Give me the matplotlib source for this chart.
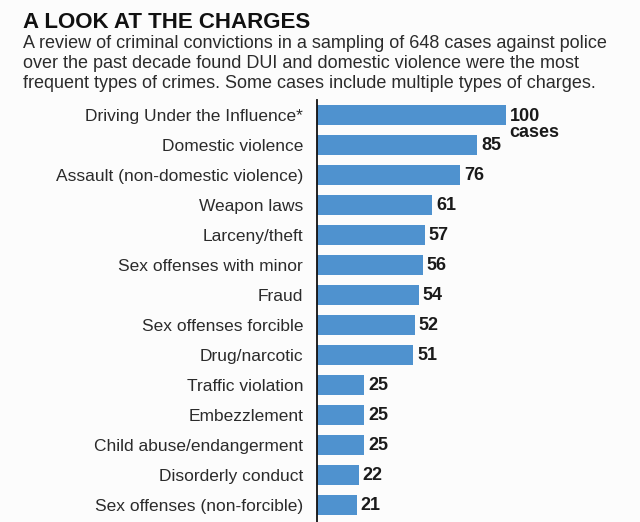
import matplotlib.pyplot as plt
import numpy as np

categories = [
    "Driving Under the Influence*",
    "Domestic violence",
    "Assault (non-domestic violence)",
    "Weapon laws",
    "Larceny/theft",
    "Sex offenses with minor",
    "Fraud",
    "Sex offenses forcible",
    "Drug/narcotic",
    "Traffic violation",
    "Embezzlement",
    "Child abuse/endangerment",
    "Disorderly conduct",
    "Sex offenses (non-forcible)",
]
cases = [100, 85, 76, 61, 57, 56, 54, 52, 51, 25, 25, 25, 22, 21]

title = "A LOOK AT THE CHARGES"
subtitle = ("A review of criminal convictions in a sampling of 648 cases against police\n"
            "over the past decade found DUI and domestic violence were the most\n"
            "frequent types of crimes. Some cases include multiple types of charges.")

bar_color = "#4f92cf"
text_color = "#2b2b2b"

plt.rcParams['font.family'] = ['Liberation Sans', 'DejaVu Sans']

fig = plt.figure(figsize=(6.4, 5.22), dpi=100)
fig.patch.set_facecolor("#fcfcfc")

# axes placed in pixel terms: left edge at x=317, top at y=100
ax = fig.add_axes([317 / 640, 0.0, 302 / 640, 422 / 522])
ax.set_facecolor("none")

y = np.arange(len(categories))
ax.barh(y, cases, height=0.67, color=bar_color)

ax.set_xlim(0, 160)
ax.set_ylim(-0.5 + 422 / 30, -0.5)

for yi, v in zip(y, cases):
    if yi == 0:
        ax.text(v + 2, yi - 0.24, f"{v}\ncases", va="top", ha="left", fontsize=13,
                fontweight="bold", color="#1a1a1a", linespacing=0.95)
    else:
        ax.text(v + 2, yi, str(v), va="center", ha="left", fontsize=13,
                fontweight="bold", color="#1a1a1a")

ax.set_yticks(y)
ax.set_yticklabels(categories, fontsize=12.5, color=text_color)
ax.tick_params(axis="y", length=0, pad=10)
ax.set_xticks([])
for s in ["top", "right", "bottom"]:
    ax.spines[s].set_visible(False)
ax.spines["left"].set_linewidth(1.3)
ax.spines["left"].set_color("#111111")

fig.text(23 / 640, 1 - 22 / 522, title, fontsize=16, fontweight="bold",
         va="center", ha="left", color="#111111")
fig.text(23 / 640, 1 - 35 / 522, subtitle, fontsize=13, va="top", ha="left",
         color=text_color, linespacing=1.22)

fig.savefig("out.png", dpi=100, facecolor=fig.get_facecolor())
